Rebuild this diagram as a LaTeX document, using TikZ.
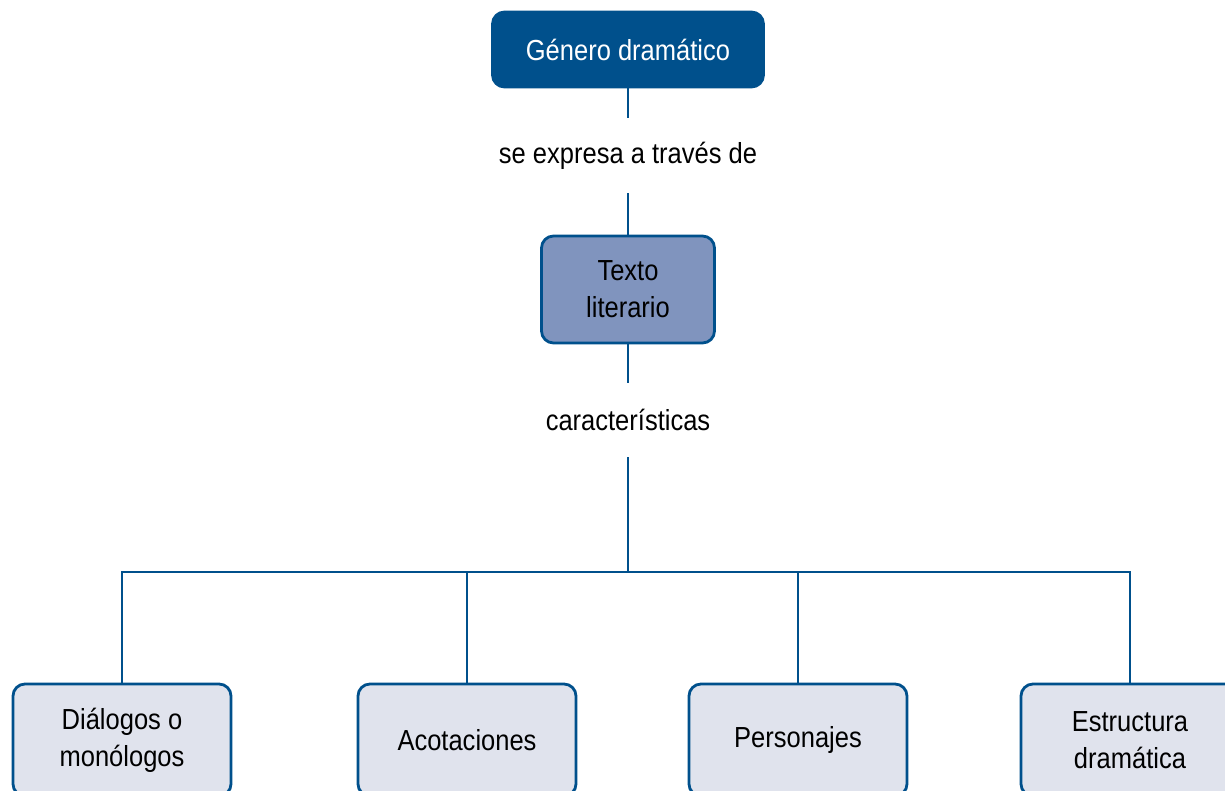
\documentclass[tikz,border=0pt]{standalone}
\usepackage{fontspec}
\setmainfont{Liberation Sans}[FakeStretch=0.88]
\usepackage{tikz}
\usetikzlibrary{calc,  positioning}
\definecolor{azul}{RGB}{0, 80, 140}
\definecolor{azulmedio}{RGB}{128, 148, 190}
\definecolor{azulclaro}{RGB}{224, 227, 237}
\tikzset{
  caja/.style={draw=azul,  line width=1.6pt,  rectangle,  rounded corners=0.24cm,  align=center,  font=\fontsize{16.5}{21}\selectfont},
  etiqueta/.style={inner sep=0pt,  align=center,  font=\fontsize{16.5}{21}\selectfont},
  linea/.style={draw=azul,  line width=1.6pt}
}

\begin{document}
\begin{tikzpicture}
          \useasboundingbox (0, 0) rectangle (24.5, -15.82);
          \clip (0, 0) rectangle (24.5, -15.82);
          \node[caja,  fill=azul,  text=white,  minimum width=5.42cm,  minimum height=1.5cm] (genero) at (12.56, -0.99) {Género dramático};
          \node[etiqueta,  minimum height=1.5cm] (expresa) at (12.56, -3.11) {se expresa a través de};
          \node[caja,  fill=azulmedio,  minimum width=3.46cm,  minimum height=2.14cm] (texto) at (12.56, -5.79) {Texto\\literario};
          \node[etiqueta,  minimum height=1.48cm] (caract) at (12.56, -8.4) {características};
          \coordinate (bus) at (12.56, -11.44);

          % caracteristicas
          \node[caja,  fill=azulclaro,  minimum width=4.36cm,  minimum height=2.24cm] (dialogos) at (2.44, -14.8) {Diálogos o\\monólogos};
          \node[caja,  fill=azulclaro,  minimum width=4.36cm,  minimum height=2.24cm] (acotaciones) at (9.34, -14.8) {Acotaciones};
          \node[caja,  fill=azulclaro,  minimum width=4.36cm,  minimum height=2.24cm] (personajes) at (15.96, -14.8) {Personajes};
          \node[caja,  fill=azulclaro,  minimum width=4.36cm,  minimum height=2.24cm] (estructura) at (22.6, -14.8) {Estructura\\dramática};

          \draw[linea]  (genero) -- (expresa);
          \draw[linea]  (expresa) -- (texto);
          \draw[linea]  (texto) -- (caract);
          \draw[linea]  (caract) -- (bus);
          \foreach \b in {dialogos,  acotaciones,  personajes,  estructura}
            \draw[linea]  (bus) -| (\b.north);
      \end{tikzpicture}
\end{document}
